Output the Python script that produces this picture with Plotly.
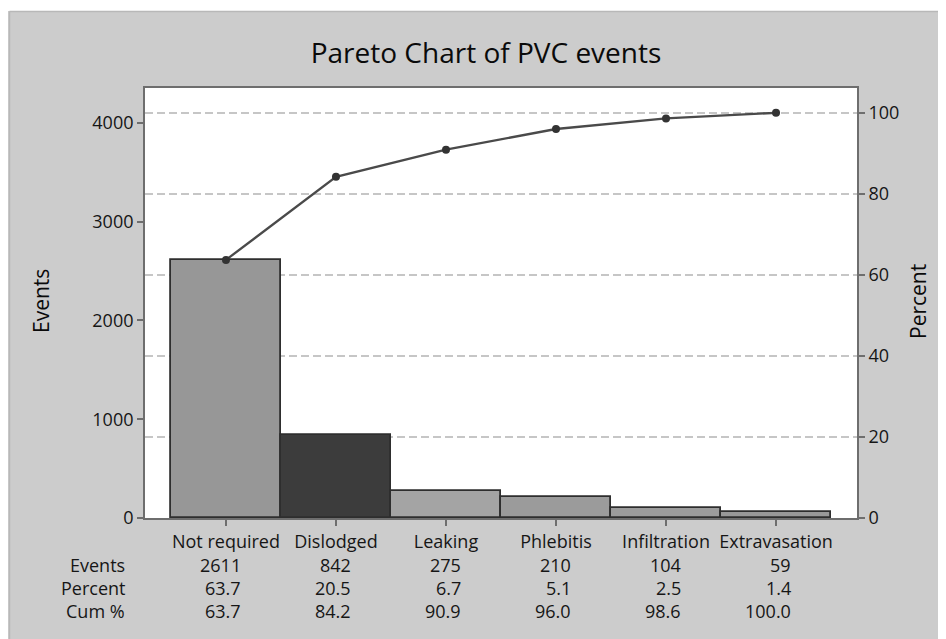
import plotly.graph_objects as go

categories = ["Not required", "Dislodged", "Leaking", "Phlebitis", "Infiltration", "Extravasation"]
events = [2611, 842, 275, 210, 104, 59]
percent = [63.7, 20.5, 6.7, 5.1, 2.5, 1.4]
cum_percent = [63.7, 84.2, 90.9, 96.0, 98.6, 100.0]
event_labels = ["2611", "842", "275", "210", "104", "59"]
percent_labels = ["63.7", "20.5", "6.7", "5.1", "2.5", "1.4"]
cum_labels = ["63.7", "84.2", "90.9", "96.0", "98.6", "100.0"]
left_ticks = [0, 1000, 2000, 3000, 4000]
right_ticks = [0, 20, 40, 60, 80, 100]

bar_colors = ["#979797", "#3c3c3c", "#a4a4a4", "#9b9b9b", "#9c9c9c", "#999999"]

OFF = 8  # browser body margin
W, H = 946 - OFF, 639 - OFF
# plot area in page pixels: x 145..857, y 88..518
L, R, T, B = 145 - OFF, 857 - OFF, 88 - OFF, 518 - OFF
total = sum(events)
ymax = 4352
y2max = ymax / total * 100

FONT = "Open Sans"
FS = 18
TXT = "#161616"

fig = go.Figure()
fig.add_trace(go.Bar(
    x=list(range(len(categories))), y=events,
    marker=dict(color=bar_colors, line=dict(color="#2e2e2e", width=1.8)),
    width=1.0, showlegend=False,
))
fig.add_trace(go.Scatter(
    x=list(range(len(categories))), y=cum_percent, yaxis="y2",
    mode="lines+markers",
    line=dict(color="#4a4a4a", width=2.3),
    marker=dict(color="#333333", size=8),
    showlegend=False,
))

def px_x(page_px):
    return (page_px - OFF - L) / (R - L)

def px_y(page_py):
    return (B - (page_py - OFF)) / (B - T)

annotations = []
rows = [("Events", event_labels, 565), ("Percent", percent_labels, 588), ("Cum %", cum_labels, 611)]
for name, labels, py in rows:
    annotations.append(dict(text=name, xref="paper", yref="paper", x=px_x(127), y=px_y(py),
                            xanchor="right", yanchor="middle", showarrow=False,
                            font=dict(family=FONT, size=FS, color=TXT)))
    for i, lab in enumerate(labels):
        annotations.append(dict(text=lab, xref="x", yref="paper", x=i, y=px_y(py),
                                xanchor="right", yanchor="middle", xshift=17, showarrow=False,
                                font=dict(family=FONT, size=FS, color=TXT)))

annotations.append(dict(text="Events", xref="paper", yref="paper", x=px_x(41), y=px_y(301),
                        textangle=-90, xanchor="center", yanchor="middle", showarrow=False,
                        font=dict(family=FONT, size=21, color="#0a0a0a")))
annotations.append(dict(text="Percent", xref="paper", yref="paper", x=px_x(918), y=px_y(302),
                        textangle=-90, xanchor="center", yanchor="middle", showarrow=False,
                        font=dict(family=FONT, size=21, color="#0a0a0a")))

shapes = [
    dict(type="rect", xref="paper", yref="paper", x0=px_x(OFF), x1=px_x(946), y0=px_y(11), y1=px_y(OFF),
         fillcolor="#ffffff", line=dict(width=0), layer="below"),
    dict(type="line", xref="paper", yref="paper", x0=px_x(9.5), x1=px_x(946), y0=px_y(11.5), y1=px_y(11.5),
         line=dict(color="#b8b8b8", width=1.5)),
    dict(type="line", xref="paper", yref="paper", x0=px_x(9.5), x1=px_x(9.5), y0=px_y(639), y1=px_y(11.5),
         line=dict(color="#b8b8b8", width=1.5)),
]

fig.update_layout(
    width=W, height=H,
    margin=dict(l=L, r=W - R, t=T, b=H - B, autoexpand=False),
    paper_bgcolor="#cccccc", plot_bgcolor="#ffffff",
    bargap=0,
    title=dict(text="Pareto Chart of PVC events", x=(486 - OFF) / W, xanchor="center",
               y=1 - (53 - OFF) / H, yanchor="middle",
               font=dict(family=FONT, size=28, color="#0a0a0a")),
    font=dict(family=FONT, size=FS, color=TXT),
    xaxis=dict(range=[-0.736, 5.736], tickmode="array", tickvals=list(range(len(categories))),
               ticktext=categories, ticks="outside", ticklen=6, tickwidth=1.5, tickcolor="#6e6e6e",
               showline=True, linecolor="#6e6e6e", linewidth=1.8, mirror=True,
               showgrid=False, zeroline=False, fixedrange=True,
               tickfont=dict(family=FONT, size=FS, color=TXT)),
    yaxis=dict(range=[0, ymax], tickvals=left_ticks, ticks="outside", ticklen=6, tickwidth=1.5,
               tickcolor="#6e6e6e", showline=True, linecolor="#6e6e6e", linewidth=1.8,
               showgrid=False, zeroline=False,
               tickfont=dict(family=FONT, size=FS, color=TXT)),
    yaxis2=dict(range=[0, y2max], tickvals=right_ticks, overlaying="y", side="right", anchor="x",
                ticks="outside", ticklen=6, tickwidth=1.5, tickcolor="#6e6e6e",
                showline=True, linecolor="#6e6e6e", linewidth=1.8,
                showgrid=True, gridcolor="#c6c6c6", gridwidth=1.5, griddash="8px,4px",
                zeroline=False,
                tickfont=dict(family=FONT, size=FS, color=TXT)),
    annotations=annotations,
    shapes=shapes,
)

fig.write_html("out.html")
